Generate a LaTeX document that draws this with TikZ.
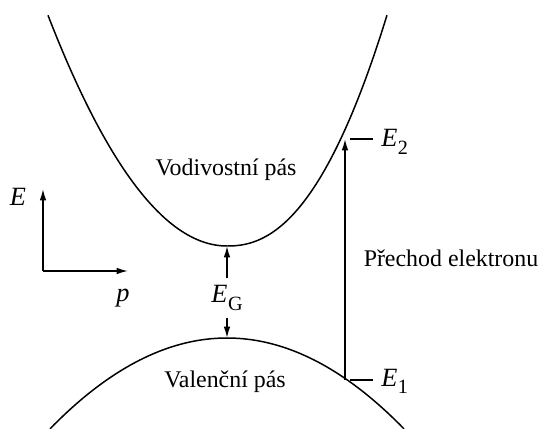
\documentclass[tikz,border=0pt]{standalone}
\usepackage{fontspec}
\setmainfont{Liberation Serif}
\usetikzlibrary{arrows.meta, calc}
\newcommand{\enlvl}[1]{\textit{E}\kern0.3pt\raisebox{-0.28em}{\fontsize{11.5}{12}\selectfont #1}}

\begin{document}
\begin{tikzpicture}[x=0.02cm, y=-0.02cm,
    band/.style={line width=0.85pt},
    arr/.style={line width=0.85pt, -{Latex[length=6.5pt,width=3.8pt]}},
    lbl/.style={font=\fontsize{13.6}{15}\selectfont, inner sep=0pt},
    sym/.style={font=\fontsize{15}{16}\selectfont, inner sep=0pt}]
    \useasboundingbox (0,0) rectangle (541,429);
    % bands
    \draw[band] plot[domain=48:227, samples=60] (\x, {246-0.72*((\x-227)/10)*((\x-227)/10)})
        -- plot[domain=228:387, samples=60] (\x, {246-0.451*((\x-227)/10)^2.25});
    \draw[band] plot[domain=50:404, samples=80] (\x, {338+0.29*((\x-227)/10)*((\x-227)/10)});
    \coordinate (cbmin) at (227,246);
    \coordinate (vbmax) at (227,338);
    \coordinate (e2) at (345,139);
    \coordinate (e1) at (345,380);
    \node[lbl] (vodiv) at (226,170) {Vodivostní pás};
    \node[lbl] (valen) at (225,382) {Valenční pás};
    \node[lbl] (prechod) at (451,258) {Přechod elektronu};
    % gap
    \node[sym, inner sep=4pt] (eg) at (227,298) {\enlvl{G}};
    \draw[arr] (eg) -- (cbmin);
    \draw[arr] (eg) -- (vbmax);
    % transition
    \draw[arr] (e1) -- (e2);
    \node[sym, anchor=base west] (e2lab) at (381,147) {\enlvl{2}};
    \node[sym, anchor=base west] (e1lab) at (381,386) {\enlvl{1}};
    \draw[band] ($(e2)+(5,0)$) -- ($(e2)+(28,0)$);
    \draw[band] ($(e1)+(5,0)$) -- ($(e1)+(28,0)$);
    % axes
    \coordinate (origin) at (43,271);
    \coordinate (etip) at (43,189);
    \coordinate (ptip) at (128,271);
    \draw[arr] (origin) -- (etip);
    \draw[arr] (origin) -- (ptip);
    \node[sym] (elab) at (18,197) {\textit{E}};
    \node[sym] (plab) at (123,298) {\textit{p}};
\end{tikzpicture}
\end{document}
